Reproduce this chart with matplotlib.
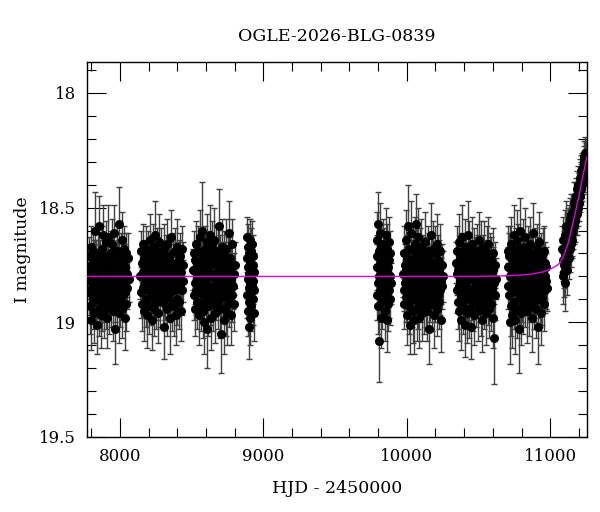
import matplotlib
matplotlib.use("Agg")
import matplotlib.pyplot as plt
from matplotlib.ticker import MultipleLocator, FormatStrFormatter

# ---------------- data: HJD-2450000, I magnitude, error, per season ----------------
S1_T = [7781, 7784, 7787, 7789, 7792, 7795, 7798, 7800, 7803, 7806,
        7809, 7811, 7814, 7817, 7820, 7822, 7825, 7828, 7831, 7833,
        7836, 7839, 7842, 7844, 7847, 7850, 7853, 7855, 7858, 7861,
        7864, 7866, 7869, 7872, 7875, 7877, 7880, 7883, 7886, 7888,
        7891, 7894, 7897, 7899, 7902, 7905, 7908, 7910, 7913, 7916,
        7919, 7921, 7924, 7927, 7930, 7932, 7935, 7938, 7941, 7943,
        7946, 7949, 7952, 7954, 7957, 7960, 7963, 7965, 7968, 7971,
        7974, 7976, 7979, 7982, 7985, 7987, 7990, 7993, 7996, 7998,
        8001, 8004, 8007, 8009, 8012, 8015, 8018, 8020, 8023, 8026,
        8029, 8032, 8035, 8038, 8041, 8044, 8048, 8052, 8056, 8061]
S1_MAG = [18.78, 18.86, 18.71, 18.93, 18.82, 18.67, 18.99, 18.75, 18.88, 18.80,
          18.69, 18.84, 18.91, 18.73, 18.79, 18.96, 18.60, 18.85, 18.77, 18.90,
          18.72, 18.83, 19.01, 18.70, 18.87, 18.76, 18.94, 18.58, 18.81, 18.89,
          18.74, 18.97, 18.79, 18.68, 18.86, 18.92, 18.62, 18.83, 18.77, 18.95,
          18.71, 18.88, 18.80, 18.65, 18.91, 18.84, 18.73, 18.98, 18.76, 18.87,
          18.63, 18.82, 18.93, 18.74, 18.85, 18.79, 18.70, 18.90, 18.81, 18.66,
          18.87, 18.76, 18.95, 18.72, 18.83, 18.61, 18.89, 18.78, 19.03, 18.75,
          18.84, 18.69, 18.80, 18.92, 18.73, 18.86, 18.57, 18.82, 18.96, 18.77,
          18.90, 18.71, 18.85, 18.79, 18.64, 18.94, 18.81, 18.74, 18.88, 18.68,
          18.83, 18.98, 18.76, 18.87, 18.70, 18.92, 18.79, 18.85, 18.72, 18.81]
S1_ERR = [0.09, 0.11, 0.08, 0.12, 0.10, 0.09, 0.13, 0.08, 0.11, 0.10,
          0.09, 0.10, 0.12, 0.09, 0.08, 0.13, 0.17, 0.11, 0.09, 0.12,
          0.08, 0.10, 0.13, 0.09, 0.11, 0.10, 0.12, 0.13, 0.08, 0.11,
          0.10, 0.14, 0.09, 0.10, 0.11, 0.12, 0.13, 0.09, 0.10, 0.12,
          0.08, 0.11, 0.10, 0.09, 0.12, 0.10, 0.09, 0.13, 0.08, 0.11,
          0.14, 0.09, 0.12, 0.10, 0.11, 0.09, 0.10, 0.12, 0.08, 0.11,
          0.10, 0.09, 0.13, 0.10, 0.08, 0.12, 0.11, 0.09, 0.15, 0.10,
          0.09, 0.11, 0.10, 0.12, 0.09, 0.10, 0.16, 0.08, 0.13, 0.10,
          0.12, 0.10, 0.09, 0.11, 0.12, 0.13, 0.09, 0.10, 0.11, 0.10,
          0.09, 0.14, 0.10, 0.11, 0.09, 0.12, 0.10, 0.09, 0.11, 0.10]

S2_T = [8142, 8145, 8148, 8151, 8154, 8157, 8160, 8163, 8166, 8169,
        8172, 8175, 8178, 8181, 8184, 8187, 8190, 8193, 8196, 8199,
        8202, 8205, 8208, 8211, 8214, 8217, 8220, 8223, 8226, 8229,
        8232, 8235, 8238, 8241, 8244, 8247, 8250, 8253, 8256, 8259,
        8262, 8265, 8268, 8271, 8274, 8277, 8280, 8283, 8286, 8289,
        8292, 8295, 8298, 8301, 8304, 8307, 8310, 8313, 8316, 8319,
        8322, 8325, 8328, 8331, 8334, 8337, 8340, 8343, 8346, 8349,
        8352, 8355, 8358, 8361, 8364, 8367, 8370, 8373, 8376, 8379,
        8382, 8385, 8388, 8391, 8394, 8397, 8400, 8403, 8406, 8409,
        8412, 8415, 8418, 8421, 8424, 8427, 8430, 8433, 8437, 8441]
S2_MAG = [18.80, 18.69, 18.87, 18.74, 18.92, 18.78, 18.66, 18.85, 18.95, 18.72,
          18.83, 18.77, 18.90, 18.68, 18.81, 18.97, 18.75, 18.86, 18.70, 18.79,
          18.93, 18.73, 18.84, 18.64, 18.89, 18.76, 18.82, 18.99, 18.71, 18.87,
          18.67, 18.80, 18.94, 18.74, 18.85, 18.62, 18.91, 18.78, 18.69, 18.83,
          18.96, 18.72, 18.88, 18.65, 18.81, 18.90, 18.75, 18.84, 18.70, 18.79,
          18.86, 18.73, 18.91, 18.77, 18.68, 18.82, 19.02, 18.75, 18.88, 18.71,
          18.79, 18.94, 18.66, 18.84, 18.76, 18.89, 18.72, 18.81, 18.98, 18.74,
          18.87, 18.63, 18.80, 18.92, 18.78, 18.70, 18.85, 18.76, 18.93, 18.82,
          18.69, 18.86, 18.74, 18.97, 18.80, 18.67, 18.90, 18.77, 18.83, 18.73,
          18.91, 18.79, 18.84, 18.71, 18.95, 18.78, 18.86, 18.68, 18.82, 18.75]
S2_ERR = [0.10, 0.09, 0.11, 0.08, 0.12, 0.10, 0.09, 0.11, 0.13, 0.08,
          0.10, 0.09, 0.12, 0.10, 0.08, 0.14, 0.09, 0.11, 0.10, 0.09,
          0.12, 0.08, 0.10, 0.11, 0.12, 0.09, 0.10, 0.13, 0.09, 0.11,
          0.10, 0.08, 0.12, 0.09, 0.10, 0.15, 0.12, 0.09, 0.10, 0.11,
          0.13, 0.09, 0.11, 0.12, 0.08, 0.12, 0.10, 0.09, 0.11, 0.10,
          0.11, 0.09, 0.12, 0.10, 0.11, 0.09, 0.14, 0.10, 0.11, 0.09,
          0.10, 0.12, 0.11, 0.09, 0.10, 0.11, 0.09, 0.10, 0.16, 0.09,
          0.11, 0.12, 0.09, 0.12, 0.10, 0.09, 0.11, 0.10, 0.13, 0.09,
          0.10, 0.11, 0.09, 0.13, 0.10, 0.12, 0.11, 0.09, 0.10, 0.09,
          0.12, 0.10, 0.09, 0.10, 0.13, 0.09, 0.11, 0.10, 0.09, 0.10]

S3_T = [8511, 8514, 8517, 8520, 8522, 8525, 8528, 8531, 8534, 8537,
        8540, 8542, 8545, 8548, 8551, 8554, 8557, 8560, 8562, 8565,
        8568, 8571, 8574, 8577, 8580, 8582, 8585, 8588, 8591, 8594,
        8597, 8600, 8602, 8605, 8608, 8611, 8614, 8617, 8620, 8622,
        8625, 8628, 8631, 8634, 8637, 8640, 8642, 8645, 8648, 8651,
        8654, 8657, 8660, 8662, 8665, 8668, 8671, 8674, 8677, 8680,
        8682, 8685, 8688, 8691, 8694, 8697, 8700, 8702, 8705, 8708,
        8711, 8714, 8717, 8720, 8722, 8725, 8728, 8731, 8734, 8737,
        8740, 8742, 8745, 8748, 8751, 8754, 8757, 8760, 8762, 8765,
        8768, 8771, 8774, 8777, 8780, 8784, 8788, 8792, 8796, 8801]
S3_MAG = [18.77, 18.88, 18.70, 18.83, 18.94, 18.73, 18.86, 18.66, 18.80, 18.91,
          18.75, 18.84, 18.69, 18.97, 18.78, 18.87, 18.63, 18.82, 18.92, 18.74,
          18.85, 18.60, 18.79, 18.95, 18.71, 18.88, 18.76, 19.00, 18.68, 18.83,
          18.90, 18.72, 18.81, 19.03, 18.65, 18.86, 18.77, 18.93, 18.70, 18.84,
          18.62, 18.89, 18.75, 18.98, 18.80, 18.67, 18.87, 18.73, 18.92, 18.79,
          18.64, 18.85, 18.81, 18.74, 18.96, 18.70, 18.88, 18.78, 18.83, 18.69,
          18.91, 18.76, 18.58, 18.86, 18.80, 18.94, 18.72, 18.84, 19.05, 18.77,
          18.82, 18.67, 18.89, 18.75, 18.99, 18.79, 18.71, 18.87, 18.74, 18.93,
          18.80, 18.68, 18.85, 18.96, 18.73, 18.83, 18.61, 18.90, 18.78, 18.86,
          18.72, 18.97, 18.81, 18.76, 18.88, 18.66, 18.84, 18.79, 18.92, 18.75]
S3_ERR = [0.09, 0.11, 0.10, 0.09, 0.12, 0.08, 0.11, 0.10, 0.09, 0.12,
          0.10, 0.09, 0.11, 0.13, 0.08, 0.10, 0.12, 0.09, 0.12, 0.10,
          0.11, 0.21, 0.09, 0.12, 0.10, 0.11, 0.09, 0.14, 0.10, 0.08,
          0.12, 0.09, 0.10, 0.17, 0.12, 0.11, 0.09, 0.13, 0.10, 0.09,
          0.13, 0.12, 0.10, 0.14, 0.09, 0.11, 0.10, 0.09, 0.12, 0.10,
          0.14, 0.11, 0.09, 0.10, 0.13, 0.12, 0.11, 0.09, 0.10, 0.12,
          0.12, 0.10, 0.16, 0.11, 0.09, 0.13, 0.10, 0.09, 0.17, 0.10,
          0.09, 0.12, 0.11, 0.10, 0.15, 0.09, 0.11, 0.10, 0.09, 0.13,
          0.10, 0.13, 0.11, 0.14, 0.10, 0.09, 0.14, 0.12, 0.09, 0.10,
          0.11, 0.13, 0.09, 0.10, 0.12, 0.11, 0.10, 0.09, 0.12, 0.10]

S4_T = [8885, 8887, 8888, 8890, 8892, 8893, 8895, 8897, 8898, 8900,
        8902, 8903, 8905, 8907, 8908, 8910, 8912, 8913, 8915, 8917,
        8918, 8920, 8922, 8924, 8925, 8927, 8929, 8931, 8933, 8936]
S4_MAG = [18.72, 18.88, 18.63, 18.81, 18.95, 18.76, 18.67, 18.85, 19.02, 18.79,
          18.70, 18.91, 18.83, 18.64, 18.98, 18.74, 18.87, 18.80, 18.69, 18.93,
          18.77, 18.84, 18.66, 18.90, 18.75, 18.82, 18.71, 18.96, 18.78, 18.86]
S4_ERR = [0.09, 0.10, 0.09, 0.08, 0.11, 0.09, 0.10, 0.09, 0.14, 0.08,
          0.09, 0.10, 0.09, 0.09, 0.12, 0.08, 0.10, 0.09, 0.10, 0.11,
          0.09, 0.08, 0.10, 0.11, 0.09, 0.10, 0.09, 0.12, 0.08, 0.10]

S5_T = [9789, 9791, 9793, 9795, 9798, 9800, 9802, 9804, 9807, 9809,
        9811, 9813, 9816, 9818, 9820, 9822, 9825, 9827, 9829, 9831,
        9834, 9836, 9838, 9840, 9843, 9845, 9847, 9849, 9852, 9854,
        9856, 9858, 9861, 9863, 9865, 9867, 9870, 9872, 9874, 9877,
        9879, 9881, 9884, 9886, 9889]
S5_MAG = [18.76, 18.64, 18.88, 18.71, 18.57, 18.83, 18.93, 18.69, 18.80, 19.08,
          18.74, 18.61, 18.86, 18.78, 18.98, 18.67, 18.84, 18.73, 18.91, 18.79,
          18.66, 18.87, 18.75, 18.82, 18.70, 18.95, 18.77, 18.85, 18.62, 18.89,
          18.72, 18.81, 18.99, 18.68, 18.84, 18.76, 18.92, 18.79, 18.65, 18.86,
          18.73, 18.90, 18.80, 18.70, 18.83]
S5_ERR = [0.10, 0.12, 0.11, 0.09, 0.14, 0.10, 0.12, 0.09, 0.10, 0.18,
          0.09, 0.13, 0.11, 0.09, 0.13, 0.10, 0.11, 0.09, 0.12, 0.10,
          0.11, 0.12, 0.09, 0.10, 0.11, 0.13, 0.09, 0.10, 0.12, 0.11,
          0.10, 0.09, 0.14, 0.11, 0.10, 0.09, 0.12, 0.10, 0.11, 0.12,
          0.09, 0.11, 0.10, 0.10, 0.09]

S6_T = [9974, 9977, 9980, 9982, 9985, 9988, 9991, 9993, 9996, 9999,
        10002, 10004, 10007, 10010, 10013, 10015, 10018, 10021, 10024, 10026,
        10029, 10032, 10035, 10037, 10040, 10043, 10046, 10048, 10051, 10054,
        10057, 10059, 10062, 10065, 10068, 10070, 10073, 10076, 10079, 10081,
        10084, 10087, 10090, 10092, 10095, 10098, 10101, 10103, 10106, 10109,
        10112, 10114, 10117, 10120, 10123, 10125, 10128, 10131, 10134, 10136,
        10139, 10142, 10145, 10147, 10150, 10153, 10156, 10158, 10161, 10164,
        10167, 10169, 10172, 10175, 10178, 10180, 10183, 10186, 10189, 10191,
        10194, 10197, 10200, 10202, 10205, 10208, 10211, 10213, 10216, 10219,
        10222, 10224, 10227, 10230, 10233, 10236, 10240, 10244, 10248, 10252]
S6_MAG = [18.79, 18.86, 18.70, 18.92, 18.75, 18.83, 18.64, 18.89, 18.77, 18.97,
          18.72, 18.85, 18.58, 18.81, 18.93, 18.68, 18.87, 18.76, 19.01, 18.73,
          18.84, 18.61, 18.90, 18.78, 18.95, 18.69, 18.82, 18.74, 18.99, 18.66,
          18.88, 18.80, 18.57, 18.86, 18.71, 18.94, 18.77, 18.83, 18.63, 18.91,
          18.75, 18.98, 18.70, 18.85, 18.79, 18.67, 18.89, 18.74, 18.82, 18.96,
          18.72, 18.81, 18.93, 18.76, 18.87, 18.65, 18.84, 18.78, 18.90, 18.73,
          18.80, 18.95, 18.69, 18.86, 18.75, 18.82, 19.03, 18.71, 18.88, 18.77,
          18.62, 18.84, 18.79, 18.92, 18.74, 18.87, 18.68, 18.81, 18.97, 18.76,
          18.85, 18.70, 18.90, 18.78, 18.83, 18.66, 18.94, 18.80, 18.73, 18.88,
          18.77, 18.91, 18.74, 18.86, 18.69, 18.82, 18.99, 18.75, 18.84, 18.80]
S6_ERR = [0.10, 0.09, 0.12, 0.11, 0.09, 0.10, 0.13, 0.11, 0.09, 0.13,
          0.10, 0.09, 0.18, 0.10, 0.12, 0.11, 0.10, 0.09, 0.13, 0.10,
          0.09, 0.14, 0.12, 0.10, 0.14, 0.11, 0.09, 0.10, 0.15, 0.12,
          0.11, 0.09, 0.13, 0.10, 0.12, 0.14, 0.09, 0.10, 0.13, 0.12,
          0.10, 0.13, 0.11, 0.09, 0.10, 0.12, 0.11, 0.10, 0.09, 0.12,
          0.10, 0.11, 0.12, 0.09, 0.10, 0.13, 0.11, 0.09, 0.12, 0.10,
          0.09, 0.13, 0.11, 0.10, 0.09, 0.11, 0.15, 0.10, 0.12, 0.09,
          0.14, 0.10, 0.09, 0.12, 0.11, 0.10, 0.12, 0.09, 0.14, 0.10,
          0.11, 0.12, 0.10, 0.09, 0.10, 0.13, 0.12, 0.09, 0.11, 0.10,
          0.09, 0.12, 0.10, 0.11, 0.12, 0.10, 0.14, 0.09, 0.10, 0.11]

S7_T = [10345, 10348, 10350, 10353, 10356, 10359, 10361, 10364, 10367, 10370,
        10372, 10375, 10378, 10381, 10383, 10386, 10389, 10392, 10394, 10397,
        10400, 10403, 10405, 10408, 10411, 10414, 10416, 10419, 10422, 10425,
        10427, 10430, 10433, 10436, 10438, 10441, 10444, 10447, 10449, 10452,
        10455, 10458, 10460, 10463, 10466, 10469, 10471, 10474, 10477, 10480,
        10482, 10485, 10488, 10491, 10493, 10496, 10499, 10502, 10504, 10507,
        10510, 10513, 10515, 10518, 10521, 10524, 10526, 10529, 10532, 10535,
        10537, 10540, 10543, 10546, 10548, 10551, 10554, 10557, 10559, 10562,
        10565, 10568, 10570, 10573, 10576, 10579, 10581, 10584, 10587, 10590,
        10592, 10595, 10598, 10601, 10604, 10607, 10610, 10613, 10617, 10621]
S7_MAG = [18.74, 18.86, 18.79, 18.69, 18.91, 18.77, 18.84, 18.65, 18.95, 18.72,
          18.82, 18.88, 18.70, 18.99, 18.76, 18.63, 18.87, 18.80, 18.93, 18.73,
          18.85, 18.67, 19.01, 18.78, 18.90, 18.71, 18.83, 18.96, 18.75, 18.62,
          18.89, 18.81, 18.68, 18.94, 18.77, 18.86, 18.72, 19.02, 18.80, 18.66,
          18.88, 18.74, 18.92, 18.79, 18.85, 18.70, 18.97, 18.82, 18.76, 18.90,
          18.73, 18.84, 18.69, 18.87, 18.78, 18.95, 18.71, 18.83, 18.64, 18.89,
          18.80, 18.75, 18.93, 18.68, 18.86, 18.77, 18.99, 18.72, 18.84, 18.81,
          18.91, 18.67, 18.79, 18.88, 18.74, 18.96, 18.82, 18.70, 18.85, 18.78,
          18.66, 18.90, 18.76, 18.83, 18.94, 18.71, 18.87, 18.80, 18.73, 18.92,
          18.79, 18.85, 18.70, 18.98, 18.77, 19.07, 18.83, 18.88, 18.75, 18.81]
S7_ERR = [0.09, 0.10, 0.09, 0.11, 0.12, 0.09, 0.10, 0.12, 0.13, 0.09,
          0.10, 0.11, 0.09, 0.13, 0.10, 0.14, 0.11, 0.09, 0.12, 0.10,
          0.11, 0.12, 0.14, 0.09, 0.12, 0.10, 0.09, 0.13, 0.10, 0.15,
          0.11, 0.09, 0.12, 0.13, 0.10, 0.11, 0.09, 0.14, 0.10, 0.12,
          0.11, 0.10, 0.12, 0.09, 0.10, 0.11, 0.13, 0.10, 0.09, 0.12,
          0.10, 0.09, 0.12, 0.11, 0.10, 0.13, 0.09, 0.10, 0.12, 0.11,
          0.09, 0.10, 0.13, 0.12, 0.11, 0.09, 0.14, 0.10, 0.09, 0.10,
          0.12, 0.11, 0.10, 0.09, 0.10, 0.14, 0.09, 0.12, 0.10, 0.09,
          0.12, 0.11, 0.10, 0.09, 0.13, 0.10, 0.11, 0.09, 0.10, 0.12,
          0.10, 0.09, 0.11, 0.13, 0.10, 0.20, 0.09, 0.11, 0.10, 0.09]

S8_T = [10703, 10706, 10708, 10711, 10714, 10717, 10719, 10722, 10725, 10728,
        10730, 10733, 10736, 10739, 10741, 10744, 10747, 10750, 10752, 10755,
        10758, 10761, 10763, 10766, 10769, 10772, 10774, 10777, 10780, 10783,
        10785, 10788, 10791, 10794, 10796, 10799, 10802, 10805, 10807, 10810,
        10813, 10816, 10818, 10821, 10824, 10827, 10829, 10832, 10835, 10838,
        10840, 10843, 10846, 10849, 10851, 10854, 10857, 10860, 10862, 10865,
        10868, 10871, 10873, 10876, 10879, 10882, 10884, 10887, 10890, 10893,
        10895, 10898, 10901, 10904, 10906, 10909, 10912, 10915, 10917, 10920,
        10923, 10926, 10928, 10931, 10934, 10937, 10939, 10942, 10945, 10948,
        10950, 10953, 10956, 10959, 10961, 10964, 10967, 10970, 10973, 10976]
S8_MAG = [18.69, 18.84, 18.76, 18.88, 18.71, 18.80, 18.69, 19.00, 18.93, 18.66,
          18.85, 18.78, 18.97, 18.73, 18.87, 18.62, 18.82, 18.91, 18.75, 18.99,
          18.70, 18.86, 18.79, 18.64, 18.94, 18.77, 18.83, 18.68, 19.03, 18.81,
          18.73, 18.89, 18.60, 18.85, 18.76, 18.96, 18.71, 18.88, 18.80, 18.67,
          18.92, 18.74, 18.84, 18.63, 18.90, 18.78, 18.86, 18.72, 18.95, 18.79,
          18.82, 18.69, 18.87, 18.75, 18.93, 18.81, 18.66, 18.89, 18.77, 18.84,
          18.71, 18.98, 18.80, 18.74, 18.86, 18.61, 18.91, 18.78, 18.83, 18.70,
          18.88, 18.76, 18.94, 18.82, 18.68, 18.85, 18.79, 19.02, 18.73, 18.87,
          18.65, 18.90, 18.77, 18.84, 18.72, 18.96, 18.81, 18.75, 18.89, 18.70,
          18.83, 18.78, 18.92, 18.69, 18.86, 18.74, 18.80, 18.82, 18.76, 18.85]
S8_ERR = [0.11, 0.10, 0.09, 0.12, 0.10, 0.09, 0.11, 0.18, 0.13, 0.12,
          0.10, 0.09, 0.14, 0.10, 0.11, 0.13, 0.09, 0.12, 0.10, 0.15,
          0.11, 0.10, 0.09, 0.13, 0.13, 0.10, 0.09, 0.11, 0.19, 0.10,
          0.09, 0.12, 0.14, 0.10, 0.09, 0.14, 0.11, 0.12, 0.10, 0.12,
          0.13, 0.10, 0.09, 0.13, 0.12, 0.10, 0.11, 0.10, 0.14, 0.09,
          0.12, 0.11, 0.10, 0.09, 0.13, 0.10, 0.12, 0.11, 0.09, 0.10,
          0.10, 0.15, 0.09, 0.11, 0.10, 0.13, 0.12, 0.09, 0.10, 0.11,
          0.12, 0.10, 0.13, 0.09, 0.11, 0.10, 0.09, 0.16, 0.10, 0.11,
          0.13, 0.12, 0.10, 0.09, 0.11, 0.14, 0.10, 0.09, 0.12, 0.11,
          0.10, 0.09, 0.12, 0.11, 0.10, 0.09, 0.10, 0.12, 0.09, 0.10]

S9_T = [11084, 11086, 11089, 11091, 11094, 11096, 11099, 11101, 11103, 11106,
        11108, 11111, 11113, 11116, 11118, 11120, 11123, 11125, 11128, 11130,
        11133, 11135, 11137, 11140, 11142, 11145, 11147, 11150, 11152, 11154,
        11157, 11159, 11162, 11164, 11167, 11169, 11171, 11174, 11176, 11179,
        11181, 11184, 11186, 11188, 11191, 11193, 11196, 11198, 11201, 11203,
        11205, 11208, 11210, 11213, 11215, 11218, 11220, 11222, 11225, 11227,
        11230, 11232, 11235, 11237, 11239, 11242, 11244, 11247, 11249, 11252]
S9_MAG = [18.68, 18.80, 18.73, 18.64, 18.78, 18.69, 18.75, 18.62, 18.83, 18.71,
          18.67, 18.74, 18.58, 18.70, 18.63, 18.77, 18.66, 18.60, 18.72, 18.65,
          18.58, 18.68, 18.62, 18.55, 18.66, 18.60, 18.53, 18.64, 18.57, 18.61,
          18.52, 18.59, 18.55, 18.48, 18.58, 18.51, 18.56, 18.47, 18.54, 18.50,
          18.45, 18.53, 18.49, 18.42, 18.50, 18.46, 18.40, 18.48, 18.44, 18.43,
          18.41, 18.37, 18.45, 18.39, 18.34, 18.42, 18.38, 18.33, 18.40, 18.36,
          18.35, 18.30, 18.37, 18.28, 18.33, 18.31, 18.26, 18.34, 18.29, 18.27]
S9_ERR = [0.10, 0.12, 0.09, 0.10, 0.11, 0.09, 0.10, 0.11, 0.12, 0.10,
          0.10, 0.09, 0.11, 0.08, 0.10, 0.11, 0.09, 0.10, 0.09, 0.08,
          0.09, 0.10, 0.08, 0.09, 0.10, 0.08, 0.09, 0.08, 0.09, 0.10,
          0.08, 0.09, 0.08, 0.09, 0.08, 0.07, 0.09, 0.08, 0.08, 0.09,
          0.08, 0.09, 0.07, 0.08, 0.08, 0.07, 0.08, 0.08, 0.07, 0.08,
          0.07, 0.08, 0.07, 0.08, 0.07, 0.07, 0.08, 0.07, 0.07, 0.08,
          0.07, 0.07, 0.06, 0.07, 0.07, 0.06, 0.07, 0.06, 0.07, 0.06]

# microlensing model curve (magenta)
MODEL_T = [7770, 10500, 10700, 10800, 10880, 10950, 11000, 11040, 11070,
           11100, 11125, 11150, 11175, 11200, 11225, 11255]
MODEL_MAG = [18.80, 18.80, 18.797, 18.794, 18.789, 18.78, 18.768, 18.755, 18.74,
             18.70, 18.655, 18.59, 18.52, 18.45, 18.37, 18.28]

SEASONS = [(S1_T, S1_MAG, S1_ERR), (S2_T, S2_MAG, S2_ERR), (S3_T, S3_MAG, S3_ERR),
           (S4_T, S4_MAG, S4_ERR), (S5_T, S5_MAG, S5_ERR), (S6_T, S6_MAG, S6_ERR),
           (S7_T, S7_MAG, S7_ERR), (S8_T, S8_MAG, S8_ERR), (S9_T, S9_MAG, S9_ERR)]

# ---------------- plot ----------------
plt.rcParams['font.family'] = ['DejaVu Serif']
plt.rcParams['font.size'] = 12

fig = plt.figure(figsize=(6.0, 5.12), dpi=100)
ax = fig.add_axes([0.145, 0.1465, 0.833, 0.7325])

for t, m, e in SEASONS:
    ax.errorbar(t, m, yerr=e, fmt='o', color='black', ms=5.5,
                ecolor='0.25', elinewidth=1.0, capsize=2.4, capthick=1.0, zorder=2)

ax.plot(MODEL_T, MODEL_MAG, color='#e000e0', lw=1.0, zorder=3)

ax.set_xlim(7770, 11255)
ax.set_ylim(19.5, 17.865)

ax.xaxis.set_major_locator(MultipleLocator(1000))
ax.xaxis.set_minor_locator(MultipleLocator(200))
ax.yaxis.set_major_locator(MultipleLocator(0.5))
ax.yaxis.set_minor_locator(MultipleLocator(0.1))
ax.yaxis.set_major_formatter(FormatStrFormatter('%g'))

ax.tick_params(which='both', direction='in', top=True, right=True, width=0.8)
ax.tick_params(which='major', length=13.5, pad=8)
ax.tick_params(which='minor', length=6.7)
for sp in ax.spines.values():
    sp.set_linewidth(1.0)

ax.set_title('OGLE-2026-BLG-0839', fontsize=12.5, pad=15)
ax.set_xlabel('HJD - 2450000', fontsize=12.5, labelpad=11)
ax.set_ylabel('I magnitude', fontsize=12.5, labelpad=6)

fig.savefig('out.png', dpi=100)
